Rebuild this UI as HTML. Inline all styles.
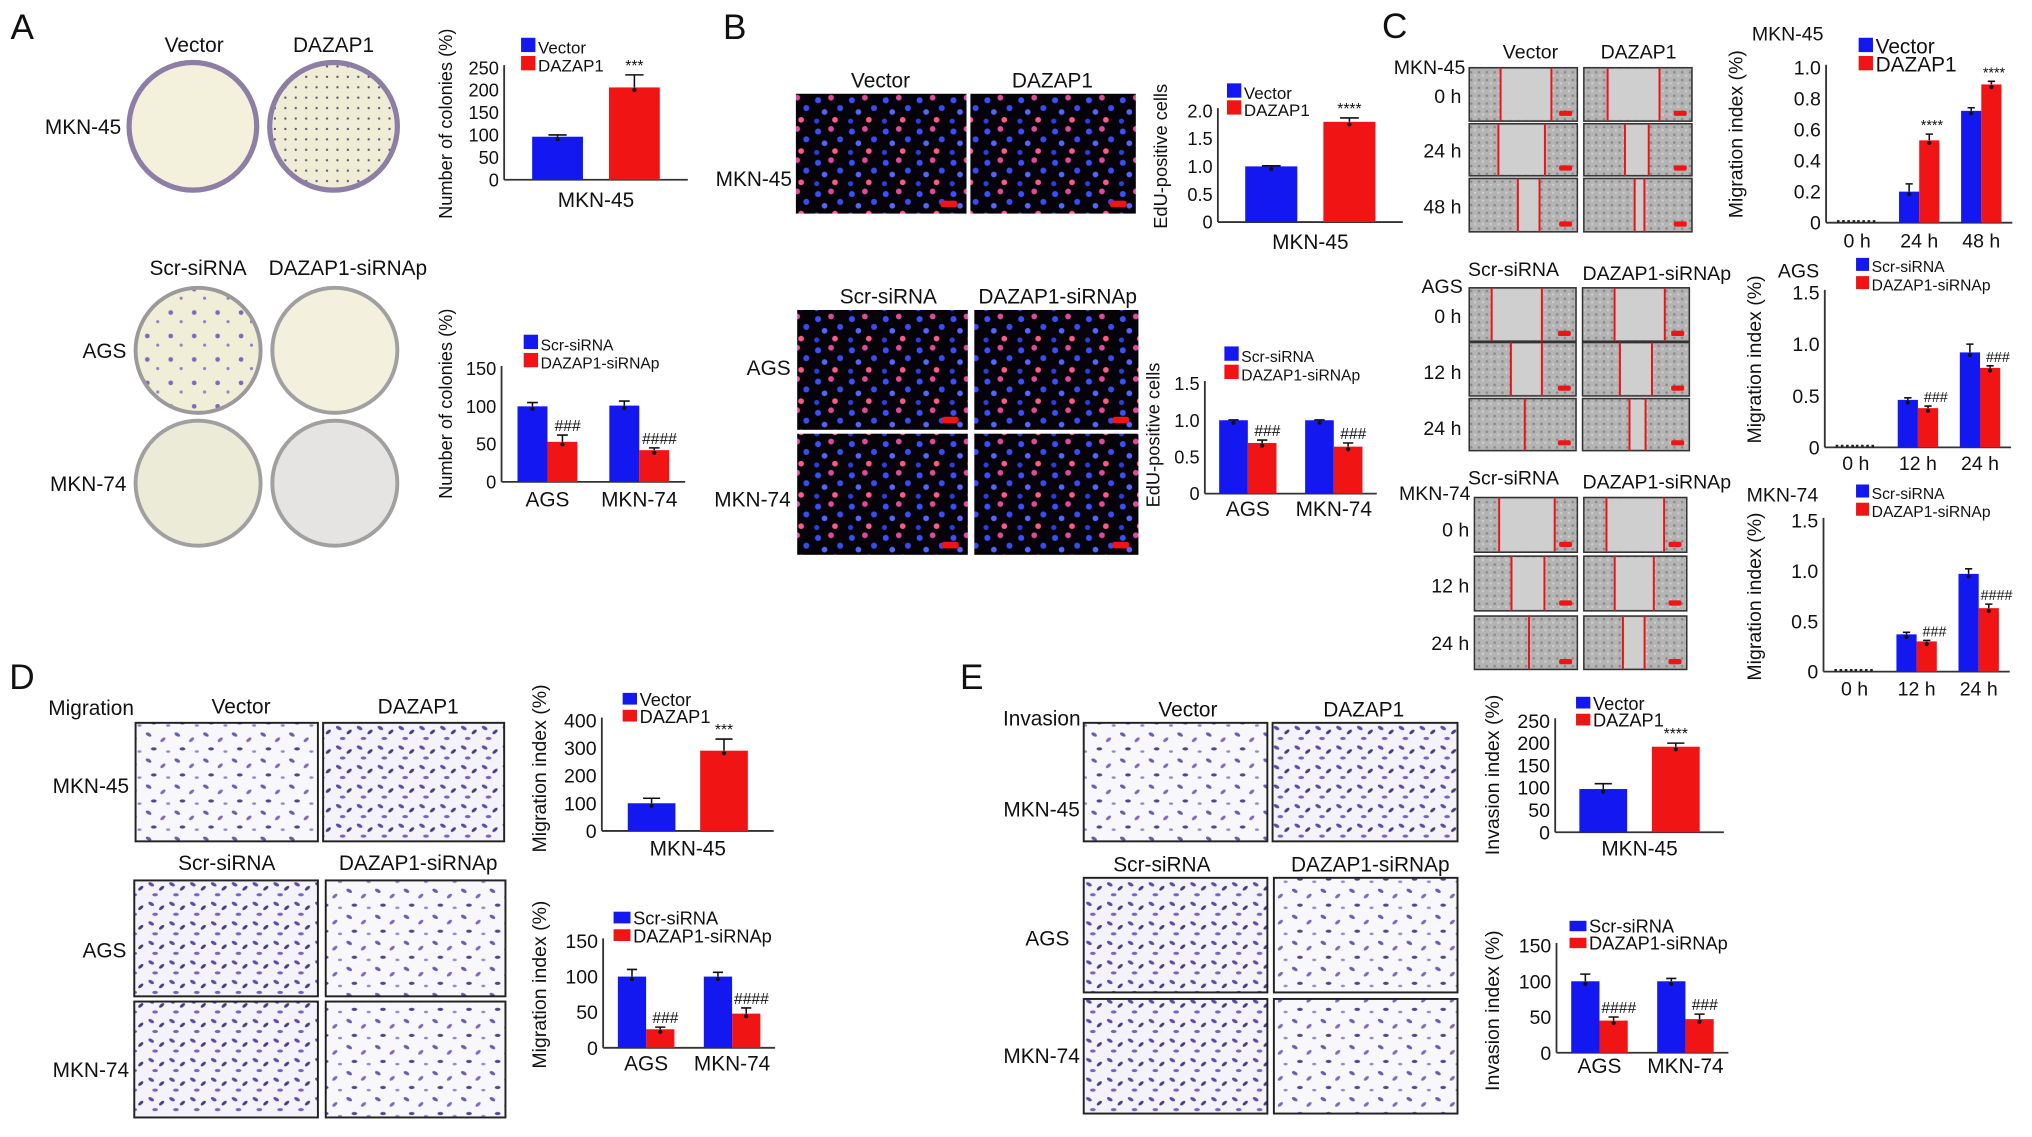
<!DOCTYPE html>
<html><head><meta charset="utf-8"><title>DAZAP1 figure</title>
<style>
html,body{margin:0;padding:0;background:#fff;}
svg{display:block;}
text{font-family:"Liberation Sans Narrow","Liberation Sans",sans-serif;fill:#111;}
.r{font-family:"Liberation Sans",sans-serif;}
.pl{font-family:"Liberation Sans",sans-serif;font-size:27px;}
.lb{font-size:16px;}
</style></head>
<body>
<svg id="fig" xmlns="http://www.w3.org/2000/svg" width="2032" height="1137" viewBox="0 0 1560 873">
<defs>
<pattern id="fluo" width="26" height="24" patternUnits="userSpaceOnUse">
<rect width="26" height="24" fill="#05020a"/>
<circle cx="4" cy="5" r="2.3" fill="#3a50ff"/><circle cx="14" cy="3" r="2.2" fill="#e04a9a"/>
<circle cx="21" cy="11" r="2.3" fill="#3a4cf0"/><circle cx="9" cy="14" r="2.2" fill="#5566ff"/>
<circle cx="17" cy="20" r="2.2" fill="#ff5a8a"/><circle cx="3" cy="21" r="2" fill="#2c3ee0"/>
</pattern>
<pattern id="scr" width="6" height="6" patternUnits="userSpaceOnUse">
<rect width="6" height="6" fill="#b4b4b4"/><circle cx="1.5" cy="1.5" r="1" fill="#8a8a8a"/><circle cx="4.5" cy="4" r="0.9" fill="#d0d0d0"/>
</pattern>
<pattern id="tw" width="22" height="20" patternUnits="userSpaceOnUse">
<rect width="22" height="20" fill="#f8f7fb"/>
<ellipse cx="4" cy="4" rx="2.4" ry="1.3" fill="#6a5cb0" transform="rotate(30 4 4)"/>
<ellipse cx="15" cy="8" rx="2.4" ry="1.2" fill="#8068c0" transform="rotate(-40 15 8)"/>
<ellipse cx="8" cy="15" rx="2.2" ry="1.2" fill="#4e4890"/>
<ellipse cx="19" cy="17" rx="1.6" ry="1" fill="#9a86cc"/>
</pattern>
<pattern id="tw2" width="16" height="15" patternUnits="userSpaceOnUse">
<rect width="16" height="15" fill="#f4f2fa"/>
<ellipse cx="4" cy="4" rx="2.4" ry="1.3" fill="#5a4ca8" transform="rotate(30 4 4)"/>
<ellipse cx="12" cy="7" rx="2.4" ry="1.2" fill="#44407e" transform="rotate(-40 12 7)"/>
<ellipse cx="7" cy="12" rx="2.2" ry="1.2" fill="#7a62c0"/>
</pattern>
<pattern id="col" width="18" height="18" patternUnits="userSpaceOnUse">
<rect width="18" height="18" fill="#f1eed7"/><circle cx="5" cy="6" r="1.8" fill="#7a6ac0"/><circle cx="13" cy="13" r="1.2" fill="#8f80c8"/>
</pattern>
<pattern id="col2" width="8" height="8" patternUnits="userSpaceOnUse">
<rect width="8" height="8" fill="#f0edd6"/><circle cx="3" cy="3" r="0.9" fill="#5a5a70"/>
</pattern>
</defs>
<rect width="1560" height="873" fill="#fff"/>

<!-- Panel A -->
<text class="pl" x="8" y="30">A</text>
<text class="lb" x="149" y="40" text-anchor="middle">Vector</text>
<text class="lb" x="256" y="40" text-anchor="middle">DAZAP1</text>
<circle cx="148" cy="97" r="49" fill="#f3f0dc" stroke="#8c7ea4" stroke-width="4"/>
<circle cx="256" cy="97" r="49" fill="url(#col2)" stroke="#8c7ea4" stroke-width="4"/>
<text class="lb" x="93" y="103" text-anchor="end">MKN-45</text>
<text class="lb" x="152" y="211" text-anchor="middle">Scr-siRNA</text>
<text class="lb" x="267" y="211" text-anchor="middle">DAZAP1-siRNAp</text>
<circle cx="152" cy="269" r="48" fill="url(#col)" stroke="#9a9a9a" stroke-width="3"/>
<circle cx="257" cy="269" r="48" fill="#f3f0de" stroke="#a0a0a0" stroke-width="3"/>
<circle cx="152" cy="371" r="48" fill="#ebebd8" stroke="#a0a0a0" stroke-width="3"/>
<circle cx="257" cy="371" r="48" fill="#e6e3e3" stroke="#a0a0a0" stroke-width="3"/>
<text class="lb" x="97" y="275" text-anchor="end">AGS</text>
<text class="lb" x="97" y="377" text-anchor="end">MKN-74</text>

<!-- Panel B -->
<text class="pl" x="555" y="30">B</text>
<text class="lb" x="676" y="67" text-anchor="middle">Vector</text>
<text class="lb" x="808" y="67" text-anchor="middle">DAZAP1</text>
<rect x="611" y="72" width="131" height="92" fill="url(#fluo)"/>
<rect x="745" y="72" width="127" height="92" fill="url(#fluo)"/>
<text class="lb" x="608" y="143" text-anchor="end">MKN-45</text>
<text class="lb" x="682" y="233" text-anchor="middle">Scr-siRNA</text>
<text class="lb" x="812" y="233" text-anchor="middle">DAZAP1-siRNAp</text>
<rect x="612" y="238" width="131" height="92" fill="url(#fluo)"/>
<rect x="748" y="238" width="126" height="92" fill="url(#fluo)"/>
<rect x="612" y="333" width="131" height="93" fill="url(#fluo)"/>
<rect x="748" y="333" width="126" height="93" fill="url(#fluo)"/>
<text class="lb" x="607" y="288" text-anchor="end">AGS</text>
<text class="lb" x="607" y="389" text-anchor="end">MKN-74</text>

<!-- Panel C -->
<text class="pl" x="1061" y="29">C</text>
<text class="r" x="1175" y="45" font-size="15" text-anchor="middle">Vector</text>
<text class="r" x="1258" y="45" font-size="15" text-anchor="middle">DAZAP1</text>
<text class="r" x="1125" y="57" font-size="15" text-anchor="end">MKN-45</text>
<text class="r" x="1122" y="79" font-size="15" text-anchor="end">0 h</text>
<text class="r" x="1122" y="121" font-size="15" text-anchor="end">24 h</text>
<text class="r" x="1122" y="164" font-size="15" text-anchor="end">48 h</text>
<text class="r" x="1162" y="212" font-size="15" text-anchor="middle">Scr-siRNA</text>
<text class="r" x="1272" y="215" font-size="15" text-anchor="middle">DAZAP1-siRNAp</text>
<text class="r" x="1123" y="225" font-size="15" text-anchor="end">AGS</text>
<text class="r" x="1122" y="248" font-size="15" text-anchor="end">0 h</text>
<text class="r" x="1122" y="291" font-size="15" text-anchor="end">12 h</text>
<text class="r" x="1122" y="334" font-size="15" text-anchor="end">24 h</text>
<text class="r" x="1162" y="372" font-size="15" text-anchor="middle">Scr-siRNA</text>
<text class="r" x="1272" y="375" font-size="15" text-anchor="middle">DAZAP1-siRNAp</text>
<text class="r" x="1129" y="384" font-size="15" text-anchor="end">MKN-74</text>
<text class="r" x="1128" y="412" font-size="15" text-anchor="end">0 h</text>
<text class="r" x="1128" y="455" font-size="15" text-anchor="end">12 h</text>
<text class="r" x="1128" y="499" font-size="15" text-anchor="end">24 h</text>
<g id="scratches"></g>

<!-- Panel D -->
<text class="pl" x="7" y="529">D</text>
<text class="r" x="37" y="549" font-size="16">Migration</text>
<text class="r" x="185" y="548" font-size="16" text-anchor="middle">Vector</text>
<text class="r" x="321" y="548" font-size="16" text-anchor="middle">DAZAP1</text>
<rect x="104" y="555" width="140" height="91" fill="url(#tw)" stroke="#222" stroke-width="1.5"/>
<rect x="248" y="555" width="139" height="91" fill="url(#tw2)" stroke="#222" stroke-width="1.5"/>
<text class="r" x="99" y="609" font-size="16" text-anchor="end">MKN-45</text>
<text class="r" x="174" y="668" font-size="16" text-anchor="middle">Scr-siRNA</text>
<text class="r" x="321" y="668" font-size="16" text-anchor="middle">DAZAP1-siRNAp</text>
<rect x="103" y="676" width="141" height="89" fill="url(#tw2)" stroke="#222" stroke-width="1.5"/>
<rect x="250" y="676" width="138" height="89" fill="url(#tw)" stroke="#222" stroke-width="1.5"/>
<rect x="103" y="769" width="141" height="89" fill="url(#tw2)" stroke="#222" stroke-width="1.5"/>
<rect x="250" y="769" width="138" height="89" fill="url(#tw)" stroke="#222" stroke-width="1.5"/>
<text class="r" x="97" y="735" font-size="16" text-anchor="end">AGS</text>
<text class="r" x="99" y="827" font-size="16" text-anchor="end">MKN-74</text>

<!-- Panel E -->
<text class="pl" x="737" y="529">E</text>
<text class="r" x="770" y="557" font-size="16">Invasion</text>
<text class="r" x="912" y="550" font-size="16" text-anchor="middle">Vector</text>
<text class="r" x="1047" y="550" font-size="16" text-anchor="middle">DAZAP1</text>
<rect x="832" y="555" width="141" height="91" fill="url(#tw)" stroke="#222" stroke-width="1.5"/>
<rect x="977" y="555" width="142" height="91" fill="url(#tw2)" stroke="#222" stroke-width="1.5"/>
<text class="r" x="829" y="627" font-size="16" text-anchor="end">MKN-45</text>
<text class="r" x="892" y="669" font-size="16" text-anchor="middle">Scr-siRNA</text>
<text class="r" x="1052" y="669" font-size="16" text-anchor="middle">DAZAP1-siRNAp</text>
<rect x="832" y="674" width="141" height="88" fill="url(#tw2)" stroke="#222" stroke-width="1.5"/>
<rect x="978" y="674" width="141" height="88" fill="url(#tw)" stroke="#222" stroke-width="1.5"/>
<rect x="832" y="767" width="141" height="88" fill="url(#tw2)" stroke="#222" stroke-width="1.5"/>
<rect x="978" y="767" width="141" height="88" fill="url(#tw)" stroke="#222" stroke-width="1.5"/>
<text class="r" x="821" y="726" font-size="16" text-anchor="end">AGS</text>
<text class="r" x="829" y="816" font-size="16" text-anchor="end">MKN-74</text>

<g id="charts"></g>
</svg>
<script>
// ---------- chart data ----------
const A1_categories=['MKN-45']; const A1_blue=[96]; const A1_red=[206]; const A1_blueErr=[4]; const A1_redErr=[28]; const A1_marks=['***'];
const A1_ticks=[0,50,100,150,200,250]; const A1_tickLabels=['0','50','100','150','200','250']; const A1_legend=['Vector','DAZAP1'];
const A2_categories=['AGS','MKN-74']; const A2_blue=[100,101]; const A2_red=[53,42]; const A2_blueErr=[5,6]; const A2_redErr=[9,3]; const A2_marks=['###','####'];
const A2_ticks=[0,50,100,150]; const A2_tickLabels=['0','50','100','150']; const A2_legend=['Scr-siRNA','DAZAP1-siRNAp'];
const B1_categories=['MKN-45']; const B1_blue=[1.0]; const B1_red=[1.8]; const B1_blueErr=[0.01]; const B1_redErr=[0.07]; const B1_marks=['****'];
const B1_ticks=[0,0.5,1.0,1.5,2.0]; const B1_tickLabels=['0','0.5','1.0','1.5','2.0']; const B1_legend=['Vector','DAZAP1'];
const B2_categories=['AGS','MKN-74']; const B2_blue=[1.0,1.0]; const B2_red=[0.69,0.64]; const B2_blueErr=[0.005,0.005]; const B2_redErr=[0.04,0.05]; const B2_marks=['###','###'];
const B2_ticks=[0,0.5,1.0,1.5]; const B2_tickLabels=['0','0.5','1.0','1.5']; const B2_legend=['Scr-siRNA','DAZAP1-siRNAp'];
const C1_categories=['0 h','24 h','48 h']; const C1_blue=[0,0.2,0.72]; const C1_red=[0,0.53,0.89]; const C1_blueErr=[0,0.05,0.02]; const C1_redErr=[0,0.04,0.02]; const C1_marks=['','****','****'];
const C1_ticks=[0,0.2,0.4,0.6,0.8,1.0]; const C1_tickLabels=['0','0.2','0.4','0.6','0.8','1.0']; const C1_legend=['Vector','DAZAP1'];
const C2_categories=['0 h','12 h','24 h']; const C2_blue=[0,0.46,0.92]; const C2_red=[0,0.38,0.77]; const C2_blueErr=[0,0.02,0.08]; const C2_redErr=[0,0.02,0.02]; const C2_marks=['','###','###'];
const C2_ticks=[0,0.5,1.0,1.5]; const C2_tickLabels=['0','0.5','1.0','1.5']; const C2_legend=['Scr-siRNA','DAZAP1-siRNAp'];
const C3_categories=['0 h','12 h','24 h']; const C3_blue=[0,0.37,0.97]; const C3_red=[0,0.30,0.63]; const C3_blueErr=[0,0.02,0.05]; const C3_redErr=[0,0.01,0.04]; const C3_marks=['','###','####'];
const C3_ticks=[0,0.5,1.0,1.5]; const C3_tickLabels=['0','0.5','1.0','1.5']; const C3_legend=['Scr-siRNA','DAZAP1-siRNAp'];
const D1_categories=['MKN-45']; const D1_blue=[100]; const D1_red=[290]; const D1_blueErr=[18]; const D1_redErr=[42]; const D1_marks=['***'];
const D1_ticks=[0,100,200,300,400]; const D1_tickLabels=['0','100','200','300','400']; const D1_legend=['Vector','DAZAP1'];
const D2_categories=['AGS','MKN-74']; const D2_blue=[100,100]; const D2_red=[26,48]; const D2_blueErr=[10,6]; const D2_redErr=[3,8]; const D2_marks=['###','####'];
const D2_ticks=[0,50,100,150]; const D2_tickLabels=['0','50','100','150']; const D2_legend=['Scr-siRNA','DAZAP1-siRNAp'];
const E1_categories=['MKN-45']; const E1_blue=[97]; const E1_red=[192]; const E1_blueErr=[12]; const E1_redErr=[8]; const E1_marks=['****'];
const E1_ticks=[0,50,100,150,200,250]; const E1_tickLabels=['0','50','100','150','200','250']; const E1_legend=['Vector','DAZAP1'];
const E2_categories=['AGS','MKN-74']; const E2_blue=[100,100]; const E2_red=[45,47]; const E2_blueErr=[10,4]; const E2_redErr=[5,7]; const E2_marks=['####','###'];
const E2_ticks=[0,50,100,150]; const E2_tickLabels=['0','50','100','150']; const E2_legend=['Scr-siRNA','DAZAP1-siRNAp'];

const NS='http://www.w3.org/2000/svg';
const BLUE='#1418f0', RED='#f01414';
function mk(tag,attrs,parent){const e=document.createElementNS(NS,tag);for(const k in attrs)e.setAttribute(k,attrs[k]);parent.appendChild(e);return e;}

function drawChart(id,L,cats,blue,red,bErr,rErr,marks,ticks,tickLabels,legend){
  const root=document.getElementById('charts');
  const g=mk('g',{},root);
  
  
  const maxV=ticks[ticks.length-1];
  const y=v=>L.y0-(v/maxV)*(L.y0-L.yt);
  const n=cats.length, band=(L.xe-L.ax)/n;
  const cx=i=>L.ax+(i+0.5)*band;
  const ya=mk('line',{x1:L.ax,y1:L.y0,x2:L.ax,y2:L.yt-2,stroke:'#333','stroke-width':1.4},g);
  
  
  const xa=mk('line',{x1:L.ax,y1:L.y0,x2:L.xe,y2:L.y0,stroke:'#333','stroke-width':1.4},g);
  
  
  ticks.forEach((t,i)=>{
    const tx=mk('text',{x:L.ax-4,y:y(t)+L.tf*0.36,'font-size':L.tf,'text-anchor':'end'},g);
    if(L.reg)tx.setAttribute('class','r');
    tx.textContent=tickLabels[i];
    
    
  });
  cats.forEach((c,i)=>{
    const bx=cx(i)-L.gap/2-L.bw, rx=cx(i)+L.gap/2;
    const series=[[bx,blue[i],bErr[i],BLUE,'blue'],[rx,red[i],rErr[i],RED,'red']];
    series.forEach(s=>{
      const top=y(s[1]);
      const b=mk('rect',{x:s[0],y:top,width:L.bw,height:Math.max(0,L.y0-top),fill:s[3]},g);
      
      
      if(s[1]>0){
        const ex=s[0]+L.bw/2, et=y(s[1]+s[2]);
        const e1=mk('path',{d:`M${ex},${top} V${et} M${ex-L.bw*0.18},${et} H${ex+L.bw*0.18}`,stroke:'#111','stroke-width':1.2,fill:'none'},g);
        
        
        const d=mk('circle',{cx:ex,cy:top+2,r:1.6,fill:'#111'},g);
        
        
      } else {
        const z=mk('line',{x1:s[0],y1:L.y0-1,x2:s[0]+L.bw,y2:L.y0-1,stroke:'#222','stroke-width':2,'stroke-dasharray':'2 2'},g);
        
        
      }
    });
    if(marks[i]){
      const mt=y(red[i]+rErr[i])-3;
      const m=mk('text',{x:rx+L.bw/2+(L.moff||0),y:mt,'font-size':L.mf,'text-anchor':'middle',fill:'#777'},g);
      m.setAttribute('class','r');
      m.textContent=marks[i];
      
      
    }
    const xl=mk('text',{x:cx(i),y:L.xl,'font-size':L.cf,'text-anchor':'middle'},g);
    if(L.reg)xl.setAttribute('class','r');
    xl.textContent=c;
    
    
  });
  [BLUE,RED].forEach((col,i)=>{
    const sq=mk('rect',{x:L.lx,y:L.ly+i*L.ld,width:L.ls,height:L.lh||L.ls,fill:col},g);
    
    
    const lt=mk('text',{x:L.lx+L.ls+2,y:L.ly+i*L.ld+(L.lh||L.ls)+1,'font-size':L.lf},g);
    if(L.reg)lt.setAttribute('class','r');
    lt.textContent=legend[i];
    
    
  });
  const yt=mk('text',{x:L.tx,y:L.ty,'font-size':L.ttf,'text-anchor':'middle',transform:`rotate(-90 ${L.tx} ${L.ty})`,'class':'r'},g);
  yt.textContent=L.title;
  
  
  if(L.cell){
    const cl=mk('text',{x:L.cell[0],y:L.cell[1],'font-size':15,'class':'r'},g);
    cl.textContent=L.cell[2];
    
    
  }
}
const base={tf:14,cf:16,mf:12,lf:13,ls:11,ttf:14};
drawChart('a1',Object.assign({},base,{ax:387,xe:528,y0:138,yt:52,bw:39,gap:20,xl:159,lx:400,ly:29,ld:14,tx:347,ty:95,title:'Number of colonies (%)'}),A1_categories,A1_blue,A1_red,A1_blueErr,A1_redErr,A1_marks,A1_ticks,A1_tickLabels,A1_legend);
drawChart('a2',Object.assign({},base,{ax:385,xe:526,y0:370,yt:283,bw:23,gap:0,xl:389,lx:402,ly:257,ld:14,lf:12,tx:347,ty:310,title:'Number of colonies (%)',moff:4}),A2_categories,A2_blue,A2_red,A2_blueErr,A2_redErr,A2_marks,A2_ticks,A2_tickLabels,A2_legend);
drawChart('b1',Object.assign({},base,{ax:935,xe:1077,y0:170.5,yt:85,bw:40,gap:20,xl:191,lx:942,ly:64,ld:13,tx:896,ty:120,title:'EdU-positive cells'}),B1_categories,B1_blue,B1_red,B1_blueErr,B1_redErr,B1_marks,B1_ticks,B1_tickLabels,B1_legend);
drawChart('b2',Object.assign({},base,{ax:925,xe:1057,y0:379,yt:294.5,bw:22,gap:0,xl:396,lx:940,ly:266,ld:14,lf:12,tx:890,ty:334,title:'EdU-positive cells',moff:4}),B2_categories,B2_blue,B2_red,B2_blueErr,B2_redErr,B2_marks,B2_ticks,B2_tickLabels,B2_legend);
drawChart('c1',Object.assign({},base,{reg:1,tf:15,cf:15,mf:11,ax:1402,xe:1545,y0:171,yt:51.7,bw:15.5,gap:0,xl:190,lx:1427,ly:29,ld:14,lf:16,tx:1338,ty:103,title:'Migration index (%)',ttf:15,cell:[1345,31,'MKN-45'],moff:2}),C1_categories,C1_blue,C1_red,C1_blueErr,C1_redErr,C1_marks,C1_ticks,C1_tickLabels,C1_legend);
drawChart('c2',Object.assign({},base,{reg:1,tf:15,cf:15,mf:11,ax:1401,xe:1544,y0:343.5,yt:224.6,bw:15.5,gap:0,xl:361,lx:1425,ly:198,ld:14,lf:12,ls:10,tx:1352,ty:276,title:'Migration index (%)',ttf:15,cell:[1365,213,'AGS'],moff:6}),C2_categories,C2_blue,C2_red,C2_blueErr,C2_redErr,C2_marks,C2_ticks,C2_tickLabels,C2_legend);
drawChart('c3',Object.assign({},base,{reg:1,tf:15,cf:15,mf:11,ax:1400,xe:1543,y0:515.7,yt:399.6,bw:15.5,gap:0,xl:534,lx:1425,ly:372,ld:14,lf:12,ls:10,tx:1352,ty:458,title:'Migration index (%)',ttf:15,cell:[1341,385,'MKN-74'],moff:6}),C3_categories,C3_blue,C3_red,C3_blueErr,C3_redErr,C3_marks,C3_ticks,C3_tickLabels,C3_legend);
drawChart('d1',Object.assign({},base,{reg:1,tf:15,cf:16,ax:462,xe:594,y0:638,yt:553,bw:36.6,gap:19,xl:657,lx:478,ly:532,ld:13,lf:14,ls:11,lh:9,tx:419,ty:590,title:'Migration index (%)',ttf:15}),D1_categories,D1_blue,D1_red,D1_blueErr,D1_redErr,D1_marks,D1_ticks,D1_tickLabels,D1_legend);
drawChart('d2',Object.assign({},base,{reg:1,tf:15,cf:16,ax:463,xe:595,y0:804.5,yt:722.5,bw:21.7,gap:0,xl:822,lx:471,ly:700,ld:13.5,lf:14,ls:13,lh:9,tx:419,ty:756,title:'Migration index (%)',ttf:15,moff:4}),D2_categories,D2_blue,D2_red,D2_blueErr,D2_redErr,D2_marks,D2_ticks,D2_tickLabels,D2_legend);
drawChart('e1',Object.assign({},base,{reg:1,tf:15,cf:16,ax:1194,xe:1323.5,y0:639,yt:553.5,bw:36.7,gap:19,xl:657,lx:1210,ly:535,ld:13,lf:14,ls:11,lh:9,tx:1151,ty:595,title:'Invasion index (%)',ttf:15}),E1_categories,E1_blue,E1_red,E1_blueErr,E1_redErr,E1_marks,E1_ticks,E1_tickLabels,E1_legend);
drawChart('e2',Object.assign({},base,{reg:1,tf:15,cf:16,ax:1195,xe:1327,y0:808.3,yt:726,bw:21.7,gap:0,xl:824,lx:1205,ly:707,ld:13,lf:14,ls:13,lh:8,tx:1151,ty:776,title:'Invasion index (%)',ttf:15,moff:4}),E2_categories,E2_blue,E2_red,E2_blueErr,E2_redErr,E2_marks,E2_ticks,E2_tickLabels,E2_legend);

// ---------- wound-healing images (decorative) ----------
const sg=document.getElementById('scratches');
const panels=[
 [1128,52,83,41,[0.29,0.76]],[1216,52,83,41,[0.22,0.70]],
 [1128,95,83,40,[0.27,0.70]],[1216,95,83,40,[0.38,0.60]],
 [1128,137,83,41,[0.45,0.65]],[1216,137,83,41,[0.47,0.56]],
 [1128,221,82,41,[0.21,0.68]],[1215,221,82,41,[0.30,0.77]],
 [1128,263,82,41,[0.39,0.68]],[1215,263,82,41,[0.35,0.65]],
 [1128,306,82,40,[0.52]],[1215,306,82,40,[0.44,0.59]],
 [1132,382,79,42,[0.24,0.78]],[1216,382,79,42,[0.22,0.78]],
 [1132,427,79,42,[0.36,0.68]],[1216,427,79,42,[0.30,0.68]],
 [1132,473,79,41,[0.53]],[1216,473,79,41,[0.38,0.59]]
];
panels.forEach(p=>{
  const r=mk('rect',{x:p[0],y:p[1],width:p[2],height:p[3],fill:'url(#scr)',stroke:'#333','stroke-width':1.2},sg);
  
  
  if(p[4].length===2){
    const w=mk('rect',{x:p[0]+p[2]*p[4][0],y:p[1]+1,width:p[2]*(p[4][1]-p[4][0]),height:p[3]-2,fill:'#cfcfcf'},sg);
    
    
  }
  p[4].forEach(f=>{
    const l=mk('line',{x1:p[0]+p[2]*f,y1:p[1],x2:p[0]+p[2]*f,y2:p[1]+p[3],stroke:'#e8141a','stroke-width':1.5},sg);
    
    
  });
  const sb=mk('rect',{x:p[0]+p[2]-14,y:p[1]+p[3]-8,width:10,height:4,fill:'#f01414',rx:1.5},sg);
  
  
});
const bars=[[742,164],[872,164],[743,330],[874,330],[743,426],[874,426],[244,646],[387,646],[244,765],[388,765],[244,858],[388,858],[973,646],[1119,646],[973,762],[1119,762],[973,855],[1119,855]];
bars.forEach(b=>{
  const s=mk('rect',{x:b[0]-20,y:b[1]-10,width:13,height:5,fill:'#f01414',rx:2},sg);
  
  
});
</script>
</body></html>
